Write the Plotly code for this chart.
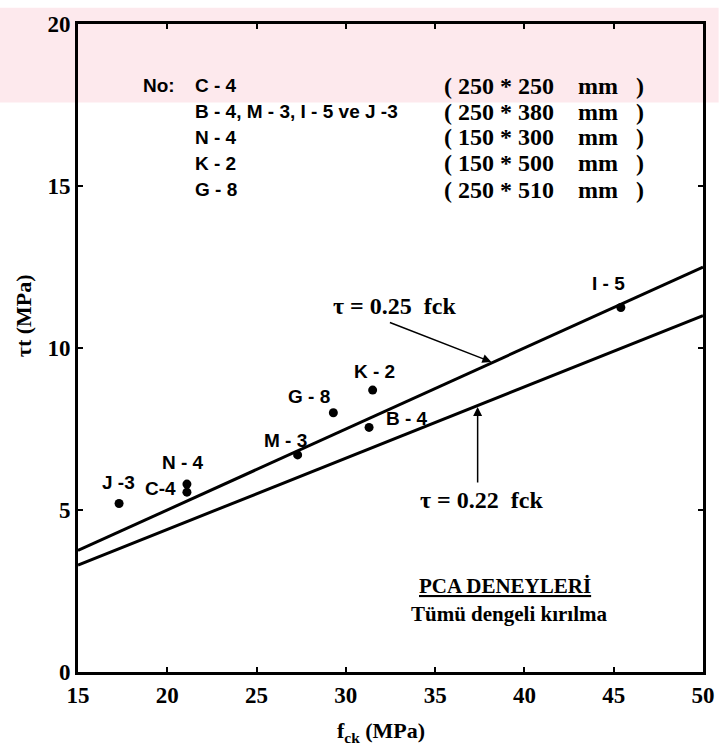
import plotly.graph_objects as go

# ---------------- data ----------------
specimens = ["J-3", "C-4", "N-4", "M-3", "G-8", "B-4", "K-2", "I-5"]
fck_values = [17.3, 21.1, 21.1, 27.3, 29.3, 31.3, 31.5, 45.4]
tau_values = [5.2, 5.55, 5.8, 6.7, 8.0, 7.55, 8.7, 11.25]

line_x = [15, 50]
coef_upper = 0.25
coef_lower = 0.22

x_ticks = [15, 20, 25, 30, 35, 40, 45, 50]
y_ticks = [0, 5, 10, 15, 20]

legend_names = ["C - 4", "B - 4, M - 3, I - 5 ve J -3", "N - 4", "K - 2", "G - 8"]
legend_dims = ["( 250 * 250    mm   )", "( 250 * 380    mm   )",
               "( 150 * 300    mm   )", "( 150 * 500    mm   )",
               "( 250 * 510    mm   )"]

point_labels = ["J -3", "C-4", "N - 4", "M - 3", "G - 8", "B - 4", "K - 2", "I - 5"]
label_x = [17.25, 19.6, 20.9, 26.6, 27.95, 33.4, 31.6, 44.7]
label_y = [5.84, 5.65, 6.47, 7.14, 8.51, 7.81, 9.27, 11.98]

SERIF = "Liberation Serif"
SANS = "Liberation Sans"
NB = "\u00a0"


def sp(s):
    return s.replace(" ", NB)


fig = go.Figure()

fig.add_trace(go.Scatter(
    x=line_x, y=[coef_upper * v for v in line_x], mode="lines",
    line=dict(color="black", width=3), hoverinfo="skip", showlegend=False))
fig.add_trace(go.Scatter(
    x=line_x, y=[coef_lower * v for v in line_x], mode="lines",
    line=dict(color="black", width=3), hoverinfo="skip", showlegend=False))
fig.add_trace(go.Scatter(
    x=fck_values, y=tau_values, mode="markers", text=specimens,
    marker=dict(color="black", size=9), showlegend=False))

ann = []
for t, xx, yy in zip(point_labels, label_x, label_y):
    ann.append(dict(x=xx, y=yy, text="<b>%s</b>" % sp(t), showarrow=False, xanchor="center",
                    font=dict(family=SANS, size=19, color="black")))

rows_y = [18.09, 17.29, 16.5, 15.71, 14.89]
ann.append(dict(x=18.5, y=rows_y[0], text="<b>No:</b>", showarrow=False, xanchor="left",
                font=dict(family=SANS, size=19, color="black")))
for nm, dm, yy in zip(legend_names, legend_dims, rows_y):
    ann.append(dict(x=21.45, y=yy, text="<b>%s</b>" % sp(nm), showarrow=False, xanchor="left",
                    font=dict(family=SANS, size=19, color="black")))
    ann.append(dict(x=35.4, y=yy, text="<b>%s</b>" % sp(dm), showarrow=False, xanchor="left",
                    font=dict(family=SERIF, size=24, color="black")))

# line labels
ann.append(dict(x=32.75, y=11.3, text="<b>%s</b>" % sp("τ = 0.25  fck"), showarrow=False,
                xanchor="center", font=dict(family=SERIF, size=24, color="black")))
ann.append(dict(x=37.6, y=5.32, text="<b>%s</b>" % sp("τ = 0.22  fck"), showarrow=False,
                xanchor="center", font=dict(family=SERIF, size=24, color="black")))
# arrows pointing at the two lines
ann.append(dict(x=38.15, y=9.57, ax=-103, ay=-40, text="", showarrow=True,
                arrowhead=2, arrowsize=1.2, arrowwidth=1.5, arrowcolor="black"))
ann.append(dict(x=37.38, y=8.18, ax=0, ay=77, text="", showarrow=True,
                arrowhead=2, arrowsize=1.2, arrowwidth=1.5, arrowcolor="black"))

ann.append(dict(x=38.9, y=2.64, text="<b><u>PCA DENEYLERİ</u></b>", showarrow=False,
                xanchor="center", font=dict(family=SERIF, size=21, color="black")))
ann.append(dict(x=39.15, y=1.79, text="<b>Tümü dengeli kırılma</b>", showarrow=False,
                xanchor="center", font=dict(family=SERIF, size=21, color="black")))

# axis titles
ann.append(dict(xref="paper", yref="paper", x=0.485, y=-0.068, text="<b>f<sub>ck</sub> (MPa)</b>",
                showarrow=False, xanchor="center", yanchor="top",
                font=dict(family=SERIF, size=22, color="black")))
ann.append(dict(xref="paper", yref="paper", x=-0.087, y=0.55, text="<b>τt (MPa)</b>",
                showarrow=False, textangle=-90, xanchor="center", yanchor="middle",
                font=dict(family=SERIF, size=22, color="black")))

# faint pink watermark band at the top of the page
PINK = "rgba(253,233,237,1)"
shapes = [dict(type="rect", xref="paper", yref="paper", x0=-0.125, x1=1.025, y0=0.879, y1=1.025,
               fillcolor=PINK, line=dict(width=0), layer="below")]

axis_common = dict(showline=True, linecolor="black", linewidth=3, mirror="allticks",
                   ticks="inside", ticklen=5, tickwidth=2, tickcolor="black",
                   showgrid=False, zeroline=False,
                   tickfont=dict(family=SERIF, size=23, color="black"))

fig.update_layout(
    width=727, height=746,
    margin=dict(l=78, r=14, t=14, b=74),
    paper_bgcolor="white", plot_bgcolor="rgba(0,0,0,0)",
    xaxis=dict(range=[15, 50], tickvals=x_ticks, ticktext=["<b>%d</b>" % v for v in x_ticks],
               **axis_common),
    yaxis=dict(range=[0, 20], tickvals=y_ticks, ticktext=["<b>%d</b>" % v for v in y_ticks],
               **axis_common),
    annotations=ann,
    shapes=shapes,
    showlegend=False,
)

fig.write_html("out.html", config={"displayModeBar": False},
               post_script="document.body.style.margin='0';")
